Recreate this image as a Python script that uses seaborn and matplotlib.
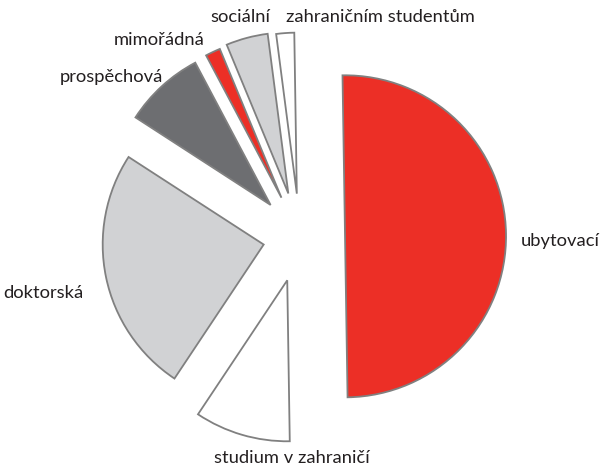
import matplotlib
matplotlib.use("Agg")
import matplotlib.pyplot as plt
import seaborn as sns

# Data
categories = ["ubytovací", "studium v zahraničí", "doktorská", "prospěchová",
              "mimořádná", "sociální", "zahraničním studentům"]
shares = [50.0, 9.6, 24.8, 8.1, 1.5, 4.2, 1.8]

# Style
sns.set_style("white")
plt.rcParams["font.family"] = ["Lato", "DejaVu Sans"]

colors = ["#EC2F26", "#FFFFFF", "#D1D2D4", "#6D6E71", "#EC2F26", "#D1D2D4", "#FFFFFF"]
explode = [0.28, 0.28, 0.23, 0.27, 0.27, 0.28, 0.27]

# label layout (data units, pie radius = 1)
label_layout = {
    "ubytovací": ((1.373, -0.025), "left"),
    "studium v zahraničí": ((-0.05, -1.373), "center"),
    "doktorská": ((-1.342, -0.35), "right"),
    "prospěchová": ((-0.851, 0.994), "right"),
    "mimořádná": ((-0.59, 1.224), "right"),
    "sociální": ((-0.37, 1.367), "center"),
    "zahraničním studentům": ((-0.087, 1.367), "left"),
}

fig = plt.figure(figsize=(6.02, 4.66), dpi=100)
ax = fig.add_axes([0, 0, 1, 1])

wedges, texts = ax.pie(
    shares,
    labels=categories,
    colors=colors,
    explode=explode,
    startangle=90.9,
    counterclock=False,
    radius=1.0,
    wedgeprops=dict(edgecolor="#808080", linewidth=1.3),
    textprops=dict(fontsize=13.2, color="#231F20"),
)

for t in texts:
    (x, y), ha = label_layout[t.get_text()]
    t.set_position((x, y))
    t.set_ha(ha)
    t.set_va("center")

ax.set_xlim(-1.863, 1.876)
ax.set_ylim(-1.422, 1.472)
ax.set_aspect("equal")
ax.axis("off")

fig.savefig("out.png", dpi=100)
